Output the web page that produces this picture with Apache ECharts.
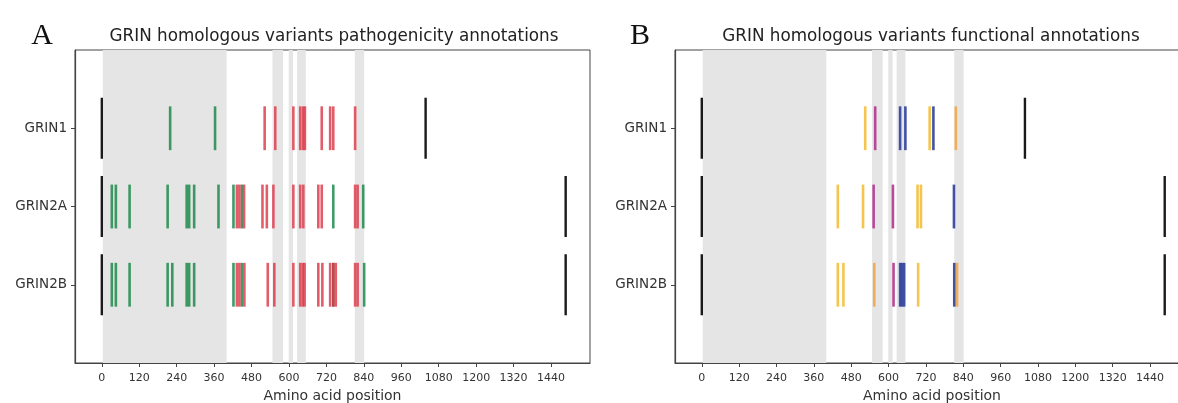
<!DOCTYPE html>
<html>
<head>
<meta charset="utf-8">
<script src="https://cdn.jsdelivr.net/npm/echarts@6/dist/echarts.min.js"></script>
<style>
html,body{margin:0;padding:0;background:#fff;}
#chart{width:1178px;height:403px;}
</style>
</head>
<body>
<div id="chart"></div>
<script>
// ---- data ----
const genes = ['GRIN1', 'GRIN2A', 'GRIN2B'];
const xTicks = [0, 120, 240, 360, 480, 600, 720, 840, 960, 1080, 1200, 1320, 1440];
const proteinStart = [0, 0, 0];
const proteinEnd = [1038, 1487, 1487];
// shaded domain regions (amino acid ranges)
const domains = [[3, 400], [547, 581], [599, 613], [626, 654], [811, 841]];

// Panel A: pathogenicity annotations
const grin1Benign = [219, 363];
const grin1Pathogenic = [522, 556, 614, 636, 645, 651, 705, 732, 742, 812];
const grin2aBenign = [32, 45, 89, 211, 272, 280, 296, 374, 422, 449, 742, 838];
const grin2aPathogenic = [433, 441, 456, 515, 529, 550, 614, 636, 646, 694, 705, 812, 820];
const grin2bBenign = [32, 45, 89, 211, 226, 272, 280, 296, 422, 449, 742, 841];
const grin2bPathogenic = [433, 441, 457, 532, 553, 614, 636, 644, 650, 694, 707, 732, 742, 750, 812, 820];

// Panel B: functional annotations
const grin1Yellow = [525, 732];
const grin1Orange = [816];
const grin1Purple = [557];
const grin1Blue = [637, 654, 744];
const grin2aYellow = [437, 518, 693, 704];
const grin2aOrange = [];
const grin2aPurple = [552, 614];
const grin2aBlue = [810];
const grin2bYellow = [437, 455, 695];
const grin2bOrange = [554, 820];
const grin2bPurple = [616];
const grin2bBlue = [637, 643, 650, 811];

// ---- helpers ----
function rows(a1, a2, a3) {
  const out = [];
  [a1, a2, a3].forEach((arr, i) => arr.forEach(v => out.push([v, i + 1])));
  return out;
}
function eventSeries(idx, name, data, color, half, width, opacity, z) {
  return {
    type: 'custom', name: name, xAxisIndex: idx, yAxisIndex: idx, z: z, silent: true,
    data: data,
    renderItem: function (params, api) {
      const x = api.value(0), y = api.value(1);
      const p0 = api.coord([x, y - half]);
      const p1 = api.coord([x, y + half]);
      return {
        type: 'line',
        shape: { x1: p0[0], y1: p0[1], x2: p1[0], y2: p1[1] },
        style: { stroke: color, lineWidth: width, opacity: opacity }
      };
    }
  };
}
function domainSeries(idx) {
  return {
    type: 'custom', xAxisIndex: idx, yAxisIndex: idx, z: 1, silent: true,
    data: domains,
    renderItem: function (params, api) {
      const a = api.coord([api.value(0), 0]);
      const b = api.coord([api.value(1), 4]);
      return {
        type: 'rect',
        shape: { x: a[0], y: Math.min(a[1], b[1]), width: b[0] - a[0], height: Math.abs(b[1] - a[1]) },
        style: { fill: '#e5e5e5' }
      };
    }
  };
}
function markerData() {
  const out = [];
  genes.forEach((g, i) => { out.push([proteinStart[i], i + 1]); out.push([proteinEnd[i], i + 1]); });
  return out;
}

const font = 'DejaVu Sans';
function xAxis(idx) {
  return {
    gridIndex: idx, type: 'value', min: -86, max: 1565,
    axisLine: { show: true, onZero: false, lineStyle: { color: '#444', width: 1.2 } },
    axisTick: { show: true, customValues: xTicks, length: 4, lineStyle: { color: '#444' } },
    axisLabel: { customValues: xTicks, formatter: v => String(v), fontSize: 11, color: '#333', margin: 10, fontFamily: font },
    splitLine: { show: false },
    name: 'Amino acid position', nameLocation: 'middle', nameGap: 26,
    nameTextStyle: { fontSize: 14, color: '#333', fontFamily: font }
  };
}
function yAxis(idx) {
  return {
    gridIndex: idx, type: 'value', min: 0, max: 4, inverse: true,
    axisLine: { show: true, onZero: false, lineStyle: { color: '#444', width: 1.2 } },
    axisTick: { show: true, customValues: [1, 2, 3], length: 4, lineStyle: { color: '#444' } },
    axisLabel: { customValues: [1, 2, 3], formatter: v => genes[v - 1] || '', fontSize: 13.5, color: '#333', margin: 8, fontFamily: font },
    splitLine: { show: false }
  };
}

const green = '#1e8a4c', red = '#dc3345';
const yellow = '#f3bb2e', orange = '#f39a2c', purple = '#b1358f', blue = '#2f3f9b';

const chart = echarts.init(document.getElementById('chart'), null, { renderer: 'canvas' });
chart.setOption({
  animation: false,
  backgroundColor: '#fff',
  grid: [
    { left: 75, top: 50, width: 515, height: 313, show: true, borderColor: '#444', borderWidth: 1, backgroundColor: 'transparent', containLabel: false, outerBoundsMode: 'none' },
    { left: 675, top: 50, width: 514, height: 313, show: true, borderColor: '#444', borderWidth: 1, backgroundColor: 'transparent', containLabel: false, outerBoundsMode: 'none' }
  ],
  xAxis: [xAxis(0), xAxis(1)],
  yAxis: [yAxis(0), yAxis(1)],
  graphic: [
    { type: 'text', x: 42, y: 36, style: { text: 'A', font: '30px "Liberation Serif"', fill: '#111', textAlign: 'center', textVerticalAlign: 'middle' } },
    { type: 'text', x: 640, y: 36, style: { text: 'B', font: '30px "Liberation Serif"', fill: '#111', textAlign: 'center', textVerticalAlign: 'middle' } },
    { type: 'text', x: 334, y: 37, style: { text: 'GRIN homologous variants pathogenicity annotations', font: '16.8px "DejaVu Sans"', fill: '#222', textAlign: 'center', textVerticalAlign: 'middle' } },
    { type: 'text', x: 931, y: 37, style: { text: 'GRIN homologous variants functional annotations', font: '16.8px "DejaVu Sans"', fill: '#222', textAlign: 'center', textVerticalAlign: 'middle' } }
  ],
  series: [
    domainSeries(0),
    domainSeries(1),
    eventSeries(0, 'length', markerData(), '#1a1a1a', 0.39, 2.4, 1, 5),
    eventSeries(1, 'length', markerData(), '#1a1a1a', 0.39, 2.4, 1, 5),
    eventSeries(0, 'benign', rows(grin1Benign, grin2aBenign, grin2bBenign), green, 0.28, 2.6, 0.85, 6),
    eventSeries(0, 'pathogenic', rows(grin1Pathogenic, grin2aPathogenic, grin2bPathogenic), red, 0.28, 2.6, 0.8, 7),
    eventSeries(1, 'yellow', rows(grin1Yellow, grin2aYellow, grin2bYellow), yellow, 0.28, 2.6, 0.85, 6),
    eventSeries(1, 'orange', rows(grin1Orange, grin2aOrange, grin2bOrange), orange, 0.28, 2.6, 0.75, 6),
    eventSeries(1, 'purple', rows(grin1Purple, grin2aPurple, grin2bPurple), purple, 0.28, 2.6, 0.9, 7),
    eventSeries(1, 'blue', rows(grin1Blue, grin2aBlue, grin2bBlue), blue, 0.28, 2.6, 0.9, 7)
  ]
});
</script>
</body>
</html>
